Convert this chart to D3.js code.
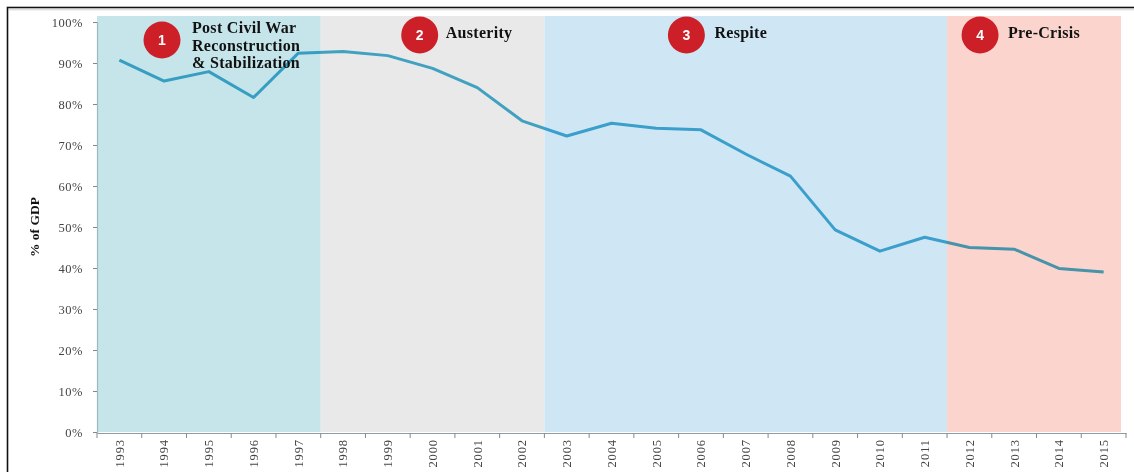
<!DOCTYPE html>
<html>
<head>
<meta charset="utf-8">
<script src="https://cdn.jsdelivr.net/npm/d3@7"></script>
<style>
  html, body { margin: 0; padding: 0; background: #fff; }
  svg { display: block; }
  .tick text { font-family: "Liberation Serif", "Times New Roman", serif; fill: #444; }
</style>
</head>
<body>
<svg id="chart" width="1134" height="472"></svg>
<script>
// Public debt, % of GDP
const years = ["1993","1994","1995","1996","1997","1998","1999","2000","2001","2002","2003",
               "2004","2005","2006","2007","2008","2009","2010","2011","2012","2013","2014","2015"];
const debtPct = [90.7, 85.6, 87.9, 81.6, 92.4, 92.8, 91.8, 88.7, 84.0, 75.9, 72.2,
                 75.3, 74.1, 73.7, 67.8, 62.4, 49.3, 44.1, 47.5, 45.0, 44.6, 39.9, 39.0];
const yTicks = [0, 10, 20, 30, 40, 50, 60, 70, 80, 90, 100];

// Policy phases
const phaseNumbers = ["1", "2", "3", "4"];
const phaseTitles = [
  ["Post Civil War", "Reconstruction", "& Stabilization"],
  ["Austerity"],
  ["Respite"],
  ["Pre-Crisis"]
];
const phaseFirstYear = ["1993", "1998", "2003", "2012"];
const phaseLastYear  = ["1997", "2002", "2011", "2015"];

// Styling / layout
const phaseFill = ["#c5e5ea", "#e9e9e9", "#cfe6f5", "#fbd5cd"];
const badgeOffset = [65, 99, 142, 33];     // badge centre from phase start
const badgeY = [40, 35, 35, 35];
const titleGap = [30, 26, 28, 28];         // title start from badge centre

const svg = d3.select("#chart");
const plotLeft = 97, plotRight = 1126, plotTop = 22, plotBottom = 432;

const x = d3.scaleBand().domain(years).range([plotLeft, plotRight]).padding(0);
const y = d3.scaleLinear().domain([0, 100]).range([plotBottom, plotTop]);
const bw = x.bandwidth();

// frame
svg.append("rect")
  .attr("x", 7.5).attr("y", 7.5).attr("width", 1140).attr("height", 480)
  .attr("fill", "none").attr("stroke", "#111").attr("stroke-width", 1.6);
svg.append("line")
  .attr("x1", 9).attr("x2", 1134).attr("y1", 9.8).attr("y2", 9.8)
  .attr("stroke", "#d0d0d0").attr("stroke-width", 1);

// phase bands
const phases = phaseNumbers.map((n, i) => ({
  n, title: phaseTitles[i],
  x0: x(phaseFirstYear[i]),
  x1: x(phaseLastYear[i]) + bw,
  fill: phaseFill[i], off: badgeOffset[i], by: badgeY[i], gap: titleGap[i]
}));

svg.append("g").selectAll("rect").data(phases).join("rect")
  .attr("x", d => d.x0)
  .attr("y", 16)
  .attr("width", (d, i) => (i === phases.length - 1 ? d.x1 - 5 : d.x1) - d.x0)
  .attr("height", plotBottom - 16)
  .attr("fill", d => d.fill);

// y axis
const yAxis = svg.append("g")
  .attr("transform", `translate(${plotLeft},0)`)
  .call(d3.axisLeft(y).tickValues(yTicks).tickFormat(d => d + "%").tickSize(4).tickPadding(10));
yAxis.select(".domain").attr("stroke", "#9bb9be").attr("stroke-width", 1.2);
yAxis.selectAll(".tick line").attr("stroke", "#888");
yAxis.selectAll(".tick text").attr("font-size", 12.5).attr("letter-spacing", 0.5);

// x axis: labels centred in each year band, ticks on band boundaries
const xAxis = svg.append("g")
  .attr("transform", `translate(0,${plotBottom + 1})`)
  .call(d3.axisBottom(x).tickSize(0).tickPadding(0));
xAxis.select(".domain").attr("stroke", "#8c9ea3").attr("stroke-width", 1.2);
xAxis.selectAll(".tick text")
  .attr("font-size", 12.5)
  .attr("letter-spacing", 0.9)
  .attr("text-anchor", "end")
  .attr("y", 0)
  .attr("dy", "0.35em")
  .attr("transform", "translate(0,6) rotate(-90)");
xAxis.append("g").selectAll("line")
  .data(years.map(yr => x(yr)).concat([plotRight]))
  .join("line")
  .attr("x1", d => d).attr("x2", d => d)
  .attr("y1", 0).attr("y2", 5)
  .attr("stroke", "#888").attr("stroke-width", 1);

// y axis title
svg.append("text")
  .attr("transform", "translate(39,227) rotate(-90)")
  .attr("text-anchor", "middle")
  .attr("font-family", "Liberation Serif, Times New Roman, serif")
  .attr("font-weight", "bold")
  .attr("font-size", 13.5)
  .attr("fill", "#111")
  .text("% of GDP");

// debt line
const line = d3.line()
  .x((d, i) => x(years[i]) + bw / 2)
  .y(d => y(d));
svg.append("path")
  .datum(debtPct)
  .attr("d", line)
  .attr("fill", "none")
  .attr("stroke", "#47b0d4")
  .attr("stroke-width", 3)
  .attr("stroke-linejoin", "round")
  .style("mix-blend-mode", "multiply");

// phase badges and titles
const badge = svg.append("g").selectAll("g").data(phases).join("g")
  .attr("transform", d => `translate(${d.x0 + d.off},${d.by})`);
badge.append("circle").attr("r", 18.5).attr("fill", "#cc1f27");
badge.append("text")
  .attr("text-anchor", "middle").attr("dy", "0.36em")
  .attr("font-family", "Liberation Sans, Arial, sans-serif")
  .attr("font-weight", "bold").attr("font-size", 14)
  .attr("fill", "#fff")
  .text(d => d.n);

const titles = badge.append("text")
  .attr("y", (d, i) => i === 0 ? -7 : 3)
  .attr("font-family", "Liberation Serif, Times New Roman, serif")
  .attr("font-weight", "bold").attr("font-size", 16)
  .attr("letter-spacing", 0.3)
  .attr("fill", "#111");
titles.selectAll("tspan").data(d => d.title.map(t => ({ t, gap: d.gap }))).join("tspan")
  .attr("x", d => d.gap)
  .attr("dy", (d, i) => i === 0 ? 0 : 17.5)
  .text(d => d.t);
</script>
</body>
</html>
